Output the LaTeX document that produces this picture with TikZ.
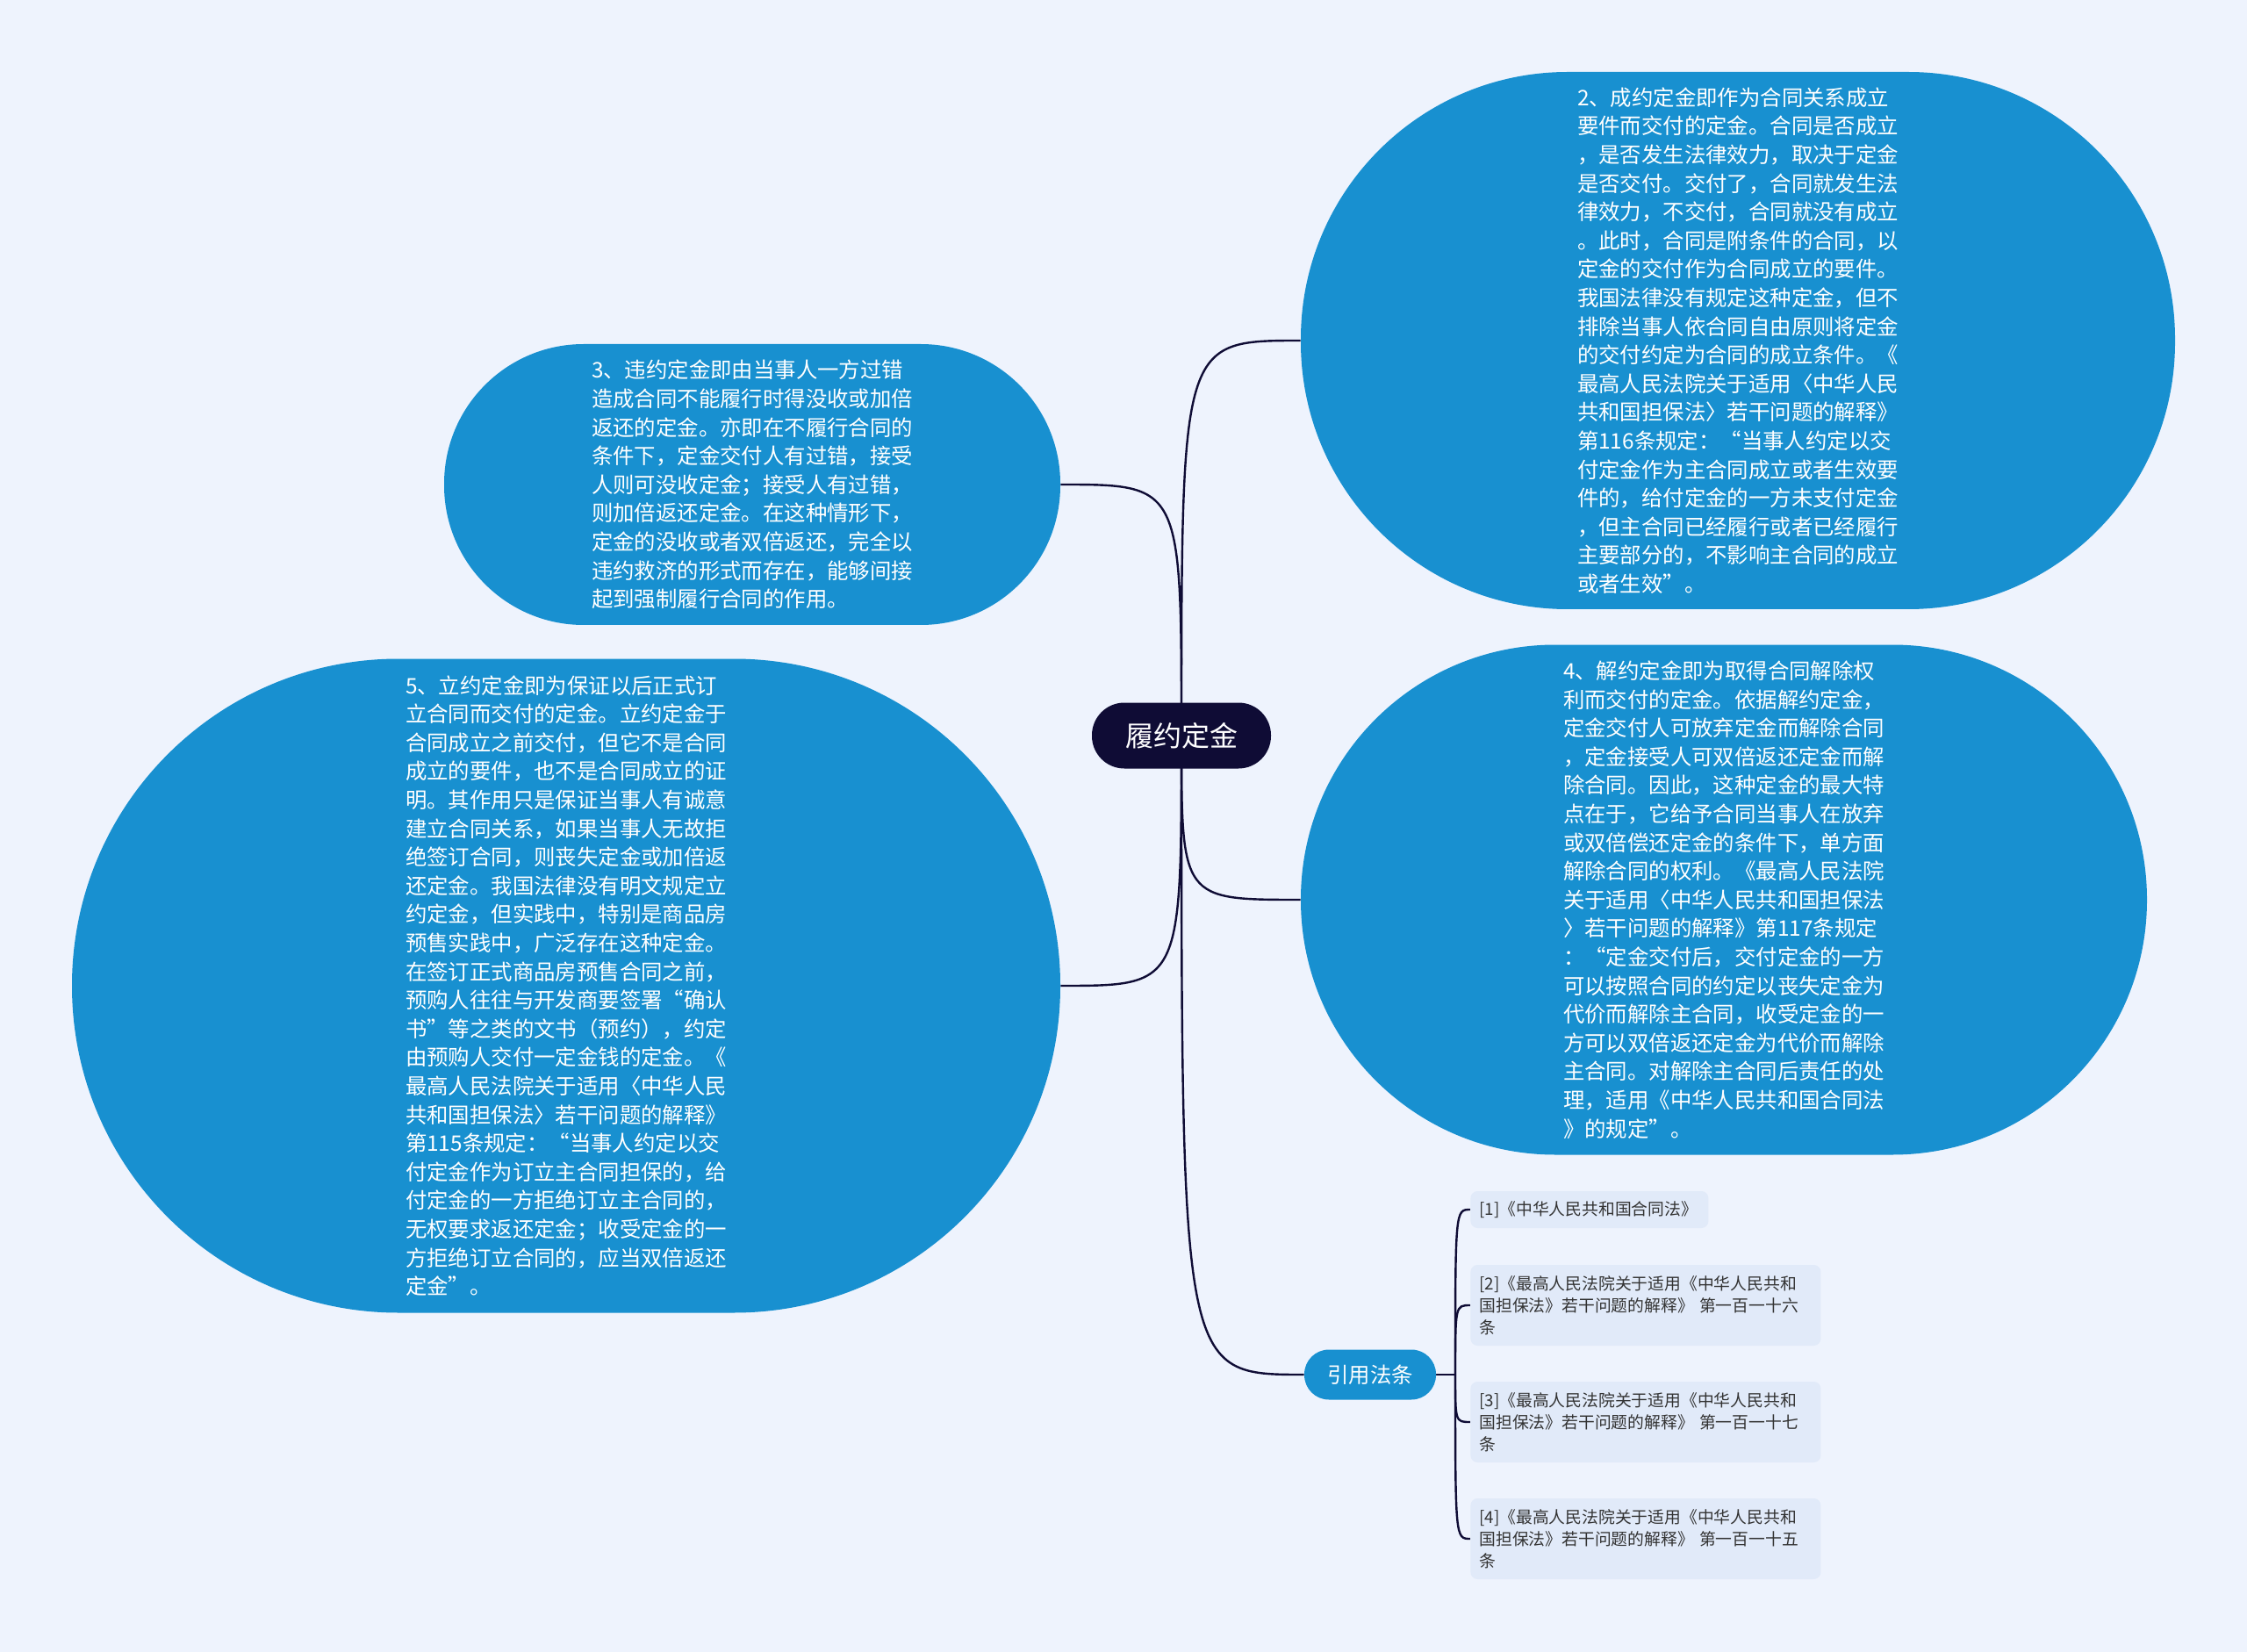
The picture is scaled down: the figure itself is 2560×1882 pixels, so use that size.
\documentclass[tikz,border=0pt]{standalone}
\usepackage{fontspec}
\setmainfont{Noto Sans CJK SC}
\usetikzlibrary{positioning,backgrounds}
\definecolor{bgblue}{HTML}{EEF3FD}
\definecolor{nodeblue}{HTML}{1890D0}
\definecolor{navy}{HTML}{0F0C35}
\definecolor{refbg}{HTML}{E1EAF9}
\definecolor{reftext}{HTML}{333333}

\begin{document}
\begin{tikzpicture}[
    x=0.5pt, y=-0.5pt,
    % define styles
    root/.style={
        fill=navy, text=white,
        rounded corners=18.5pt,
        minimum width=102pt, minimum height=37.5pt,
        font=\fontsize{16}{20}\selectfont
    },
    bubble/.style={
        fill=nodeblue, text=white,
        align=left, inner sep=0pt,
        font=\fontsize{12.2}{16.3}\selectfont
    },
    citebox/.style={
        fill=nodeblue, text=white,
        rounded corners=14pt,
        minimum width=75pt, minimum height=28.5pt,
        font=\fontsize{12.2}{15}\selectfont
    },
    refbox/.style={
        fill=refbg, text=reftext,
        rounded corners=4pt, anchor=west,
        align=left, text width=189.5pt,
        inner xsep=5pt, inner ysep=4pt,
        font=\fontsize{9.4}{12.5}\selectfont
    },
    link/.style={draw=navy, line width=1.2pt}
]
\useasboundingbox (0,0) rectangle (2560,1882);

% central topic
\node[root] (root) at (1346,838) {履约定金};

% the four kinds of deposit
\node[bubble, minimum width=498pt, minimum height=306pt, rounded corners=152pt] (e2) at (1980,388) {%
2、成约定金即作为合同关系成立\\
要件而交付的定金。合同是否成立\\
，是否发生法律效力，取决于定金\\
是否交付。交付了，合同就发生法\\
律效力，不交付，合同就没有成立\\
。此时，合同是附条件的合同，以\\
定金的交付作为合同成立的要件。\\
我国法律没有规定这种定金，但不\\
排除当事人依合同自由原则将定金\\
的交付约定为合同的成立条件。《\\
最高人民法院关于适用〈中华人民\\
共和国担保法〉若干问题的解释》\\
第116条规定：“当事人约定以交\\
付定金作为主合同成立或者生效要\\
件的，给付定金的一方未支付定金\\
，但主合同已经履行或者已经履行\\
主要部分的，不影响主合同的成立\\
或者生效”。};

\node[bubble, minimum width=351pt, minimum height=160pt, rounded corners=79.5pt] (e3) at (857,552) {%
3、违约定金即由当事人一方过错\\
造成合同不能履行时得没收或加倍\\
返还的定金。亦即在不履行合同的\\
条件下，定金交付人有过错，接受\\
人则可没收定金；接受人有过错，\\
则加倍返还定金。在这种情形下，\\
定金的没收或者双倍返还，完全以\\
违约救济的形式而存在，能够间接\\
起到强制履行合同的作用。};

\node[bubble, minimum width=482pt, minimum height=290.5pt, rounded corners=145pt] (e4) at (1964,1025) {%
4、解约定金即为取得合同解除权\\
利而交付的定金。依据解约定金，\\
定金交付人可放弃定金而解除合同\\
，定金接受人可双倍返还定金而解\\
除合同。因此，这种定金的最大特\\
点在于，它给予合同当事人在放弃\\
或双倍偿还定金的条件下，单方面\\
解除合同的权利。《最高人民法院\\
关于适用〈中华人民共和国担保法\\
〉若干问题的解释》第117条规定\\
：“定金交付后，交付定金的一方\\
可以按照合同的约定以丧失定金为\\
代价而解除主合同，收受定金的一\\
方可以双倍返还定金为代价而解除\\
主合同。对解除主合同后责任的处\\
理，适用《中华人民共和国合同法\\
》的规定”。};

\node[bubble, minimum width=563pt, minimum height=372.5pt, rounded corners=186pt] (e5) at (645,1123) {%
5、立约定金即为保证以后正式订\\
立合同而交付的定金。立约定金于\\
合同成立之前交付，但它不是合同\\
成立的要件，也不是合同成立的证\\
明。其作用只是保证当事人有诚意\\
建立合同关系，如果当事人无故拒\\
绝签订合同，则丧失定金或加倍返\\
还定金。我国法律没有明文规定立\\
约定金，但实践中，特别是商品房\\
预售实践中，广泛存在这种定金。\\
在签订正式商品房预售合同之前，\\
预购人往往与开发商要签署“确认\\
书”等之类的文书（预约），约定\\
由预购人交付一定金钱的定金。《\\
最高人民法院关于适用〈中华人民\\
共和国担保法〉若干问题的解释》\\
第115条规定：“当事人约定以交\\
付定金作为订立主合同担保的，给\\
付定金的一方拒绝订立主合同的，\\
无权要求返还定金；收受定金的一\\
方拒绝订立合同的，应当双倍返还\\
定金”。};

% cited laws
\node[citebox] (cite) at (1561,1566) {引用法条};
\coordinate (fork) at (1658,1566);

\node[refbox, text width=125.5pt, minimum height=21pt] (r1) at (1675,1378) {[1]《中华人民共和国合同法》};
\node[refbox, minimum height=46pt] (r2) at (1675,1487) {[2]《最高人民法院关于适用《中华人民共和\\国担保法》若干问题的解释》 第一百一十六\\条};
\node[refbox, minimum height=46pt] (r3) at (1675,1620) {[3]《最高人民法院关于适用《中华人民共和\\国担保法》若干问题的解释》 第一百一十七\\条};
\node[refbox, minimum height=46pt] (r4) at (1675,1753) {[4]《最高人民法院关于适用《中华人民共和\\国担保法》若干问题的解释》 第一百一十五\\条};

% connectors behind the nodes
\begin{scope}[on background layer]
    \fill[bgblue] (0,0) rectangle (2560,1882);
    \foreach \tgt/\side in {e2/west, e3/east, e4/west, e5/east, cite/west}
        \draw[link] (root.center) .. controls (root.center|-\tgt.\side) and (root.center|-\tgt.\side) .. (\tgt.\side);
    \draw[link] (cite.east) -- (fork);
    \foreach \r in {r1,r2,r3,r4}
        \draw[link] (fork) .. controls (fork|-\r.west) .. (\r.west);
\end{scope}
\end{tikzpicture}
\end{document}
